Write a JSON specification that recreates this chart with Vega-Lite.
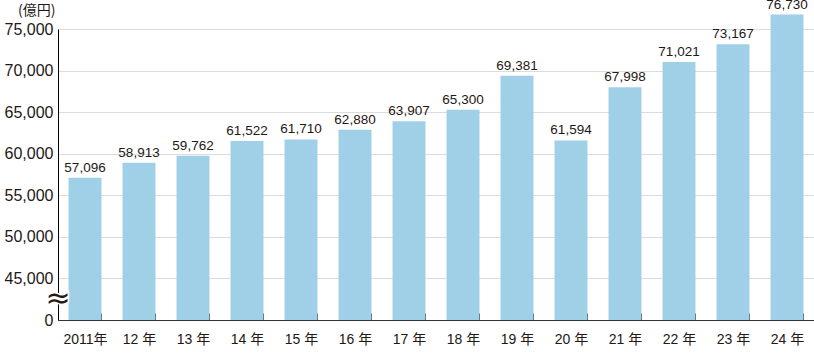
{
  "$schema": "https://vega.github.io/schema/vega-lite/v6.json",
  "width": 756,
  "height": 291,
  "autosize": {"type": "none"},
  "padding": {"left": 58, "top": 29, "right": 0, "bottom": 35},
  "config": {
    "view": {"stroke": null},
    "font": "Liberation Sans, Noto Sans CJK JP",
    "axis": {"labelFont": "Liberation Sans, Noto Sans CJK JP", "titleFont": "Noto Sans CJK JP"}
  },
  "datasets": {
    "sales": [
      {"year": "2011年", "value": 57096},
      {"year": "12 年", "value": 58913},
      {"year": "13 年", "value": 59762},
      {"year": "14 年", "value": 61522},
      {"year": "15 年", "value": 61710},
      {"year": "16 年", "value": 62880},
      {"year": "17 年", "value": 63907},
      {"year": "18 年", "value": 65300},
      {"year": "19 年", "value": 69381},
      {"year": "20 年", "value": 61594},
      {"year": "21 年", "value": 67998},
      {"year": "22 年", "value": 71021},
      {"year": "23 年", "value": 73167},
      {"year": "24 年", "value": 76730}
    ],
    "axisbreak": [
      {"pos": 0, "value": 42500, "symbol": "≈"}
    ]
  },
  "resolve": {"scale": {"x": "independent"}},
  "layer": [
    {
      "data": {"name": "sales"},
      "layer": [
        {
          "mark": {"type": "bar", "color": "#a0cfe8"},
          "encoding": {
            "x": {
              "field": "year", "type": "nominal", "sort": null,
              "scale": {"paddingInner": 0.39, "paddingOuter": 0.195},
              "axis": {
                "title": null, "labelAngle": 0, "tickBand": "extent", "tickSize": -7,
                "tickColor": "#333", "domainColor": "#333", "labelFontSize": 14,
                "labelPadding": 19, "labelColor": "#231815", "grid": false
              }
            },
            "y": {
              "field": "value", "type": "quantitative",
              "scale": {"domain": [40000, 75000], "nice": false, "zero": false},
              "axis": {
                "values": [40000, 45000, 50000, 55000, 60000, 65000, 70000, 75000],
                "labelExpr": "datum.value == 40000 ? '0' : format(datum.value, ',')",
                "ticks": false, "domainColor": "#000", "gridColor": "#dcdcdc",
                "labelFontSize": 16, "labelPadding": 5, "labelColor": "#231815",
                "title": "(億円)", "titleAngle": 0, "titleAlign": "right",
                "titleBaseline": "top", "titleX": -3, "titleY": -26,
                "titleFontWeight": "normal", "titleFontSize": 14, "titleColor": "#231815"
              }
            },
            "y2": {"datum": 40000}
          }
        },
        {
          "mark": {"type": "text", "baseline": "bottom", "dy": -3, "fontSize": 13.5, "color": "#231815"},
          "encoding": {
            "x": {"field": "year", "type": "nominal", "sort": null},
            "y": {"field": "value", "type": "quantitative"},
            "text": {"field": "value", "type": "quantitative", "format": ","}
          }
        }
      ]
    },
    {
      "data": {"name": "axisbreak"},
      "layer": [
        {
          "mark": {"type": "text", "font": "DejaVu Sans", "fontSize": 30, "stroke": "white", "strokeWidth": 3, "fill": "white"},
          "encoding": {
            "x": {"field": "pos", "type": "quantitative", "scale": {"domain": [0, 1]}, "axis": null},
            "y": {"field": "value", "type": "quantitative"},
            "text": {"field": "symbol"}
          }
        },
        {
          "mark": {"type": "text", "font": "DejaVu Sans", "fontSize": 30, "color": "#231815"},
          "encoding": {
            "x": {"field": "pos", "type": "quantitative", "scale": {"domain": [0, 1]}, "axis": null},
            "y": {"field": "value", "type": "quantitative"},
            "text": {"field": "symbol"}
          }
        }
      ]
    }
  ]
}
